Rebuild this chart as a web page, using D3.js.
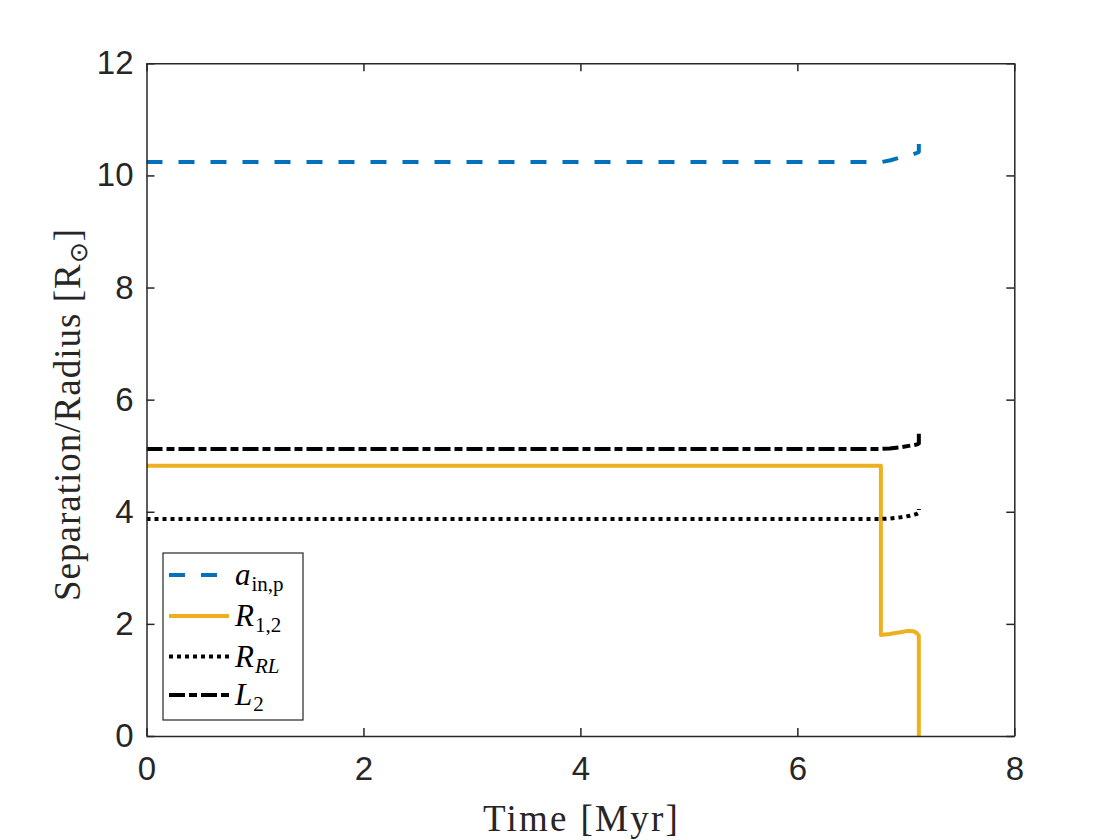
<!DOCTYPE html>
<html>
<head>
<meta charset="utf-8">
<script src="https://cdn.jsdelivr.net/npm/d3@7"></script>
<style>
  body { margin: 0; background: #fff; }
  svg { display: block; }
  .tick text { font-family: "Liberation Sans", Arial, sans-serif; fill: #262626; }
</style>
</head>
<body>
<div id="chart"></div>
<script>
// ---- data ----
var xTicks = [0, 2, 4, 6, 8];
var yTicks = [0, 2, 4, 6, 8, 10, 12];

var aInTime  = [0, 6.78, 6.86, 6.93, 7.00, 7.06, 7.10, 7.12, 7.12];
var aInValue = [10.24, 10.24, 10.27, 10.31, 10.34, 10.37, 10.40, 10.42, 10.56];

var r12Time  = [0, 6.77, 6.77, 6.85, 6.95, 7.02, 7.07, 7.10, 7.12, 7.12];
var r12Value = [4.82, 4.82, 1.80, 1.82, 1.85, 1.875, 1.87, 1.84, 1.79, 0];

var rrlTime  = [0, 6.75, 6.85, 6.95, 7.04, 7.10, 7.12, 7.12];
var rrlValue = [3.87, 3.87, 3.88, 3.90, 3.93, 3.96, 3.98, 4.05];

var l2Time  = [0, 6.75, 6.85, 6.95, 7.04, 7.10, 7.12, 7.12];
var l2Value = [5.12, 5.12, 5.13, 5.15, 5.18, 5.20, 5.22, 5.39];

var seriesNames = ['a', 'R', 'R', 'L'];
var seriesSubs  = ['in,p', '1,2', 'RL', '2'];

(function(){
    // ---- layout ----
    var width = 1120, height = 840;
    var m = { left: 146.5, right: 1014.3, top: 63.3, bottom: 736 };

    var svg = d3.select('#chart').append('svg')
        .attr('width', width)
        .attr('height', height);

    var x = d3.scaleLinear().domain([0, 8]).range([m.left, m.right]);
    var y = d3.scaleLinear().domain([0, 12]).range([m.bottom, m.top]);

    var series = [
        { t: aInTime, v: aInValue, color: '#0072BD', dash: '16,16' },
        { t: r12Time, v: r12Value, color: '#EDB120', dash: null },
        { t: rrlTime, v: rrlValue, color: '#000000', dash: '4,4' },
        { t: l2Time,  v: l2Value,  color: '#000000', dash: '16,4,8,4' }
    ];

    var line = d3.line()
        .x(function(d){ return x(d[0]); })
        .y(function(d){ return y(d[1]); });

    // clip to axes
    svg.append('clipPath').attr('id', 'plotclip')
      .append('rect')
        .attr('x', m.left).attr('y', m.top)
        .attr('width', m.right - m.left).attr('height', m.bottom - m.top);

    var plot = svg.append('g').attr('clip-path', 'url(#plotclip)');

    series.forEach(function(s){
        var pts = s.t.map(function(t, i){ return [t, s.v[i]]; });
        plot.append('path')
            .attr('d', line(pts))
            .attr('fill', 'none')
            .attr('stroke', s.color)
            .attr('stroke-width', 4)
            .attr('stroke-linejoin', 'round')
            .attr('stroke-dasharray', s.dash);
    });

    // ---- axes (box with inward ticks on all sides) ----
    var axisColor = '#262626';

    var xAxis = d3.axisBottom(x).tickValues(xTicks).tickSizeInner(-8).tickSizeOuter(0).tickPadding(21);
    var yAxis = d3.axisLeft(y).tickValues(yTicks).tickSizeInner(-8).tickSizeOuter(0).tickPadding(13);

    var gx = svg.append('g').attr('transform', 'translate(0,' + m.bottom + ')').call(xAxis);
    var gy = svg.append('g').attr('transform', 'translate(' + m.left + ',0)').call(yAxis);
    var gxTop = svg.append('g').attr('transform', 'translate(0,' + m.top + ')')
        .call(d3.axisTop(x).tickValues(xTicks).tickSizeInner(-8).tickSizeOuter(0).tickFormat(''));
    var gyRight = svg.append('g').attr('transform', 'translate(' + m.right + ',0)')
        .call(d3.axisRight(y).tickValues(yTicks).tickSizeInner(-8).tickSizeOuter(0).tickFormat(''));

    [gx, gy, gxTop, gyRight].forEach(function(g){
        g.select('.domain').attr('stroke', axisColor).attr('stroke-width', 1.5);
        g.selectAll('.tick line').attr('stroke', axisColor).attr('stroke-width', 1.5);
        g.selectAll('.tick text').style('font-size', '33px');
    });
    gx.selectAll('.tick text').attr('dy', '0.71em');

    // ---- axis labels ----
    svg.append('text')
        .attr('x', (m.left + m.right) / 2)
        .attr('y', 831)
        .attr('text-anchor', 'middle')
        .attr('textLength', 195)
        .attr('lengthAdjust', 'spacing')
        .style('font-family', '"Liberation Serif", "Times New Roman", serif')
        .style('font-size', '37px')
        .style('fill', '#262626')
        .text('Time [Myr]');

    var yLabel = svg.append('text')
        .attr('transform', 'translate(80,415) rotate(-90)')
        .attr('text-anchor', 'middle')
        .attr('textLength', 372)
        .attr('lengthAdjust', 'spacing')
        .style('font-family', '"Liberation Serif", "Times New Roman", serif')
        .style('font-size', '37px')
        .style('fill', '#262626');
    yLabel.append('tspan').text('Separation/Radius [R');
    yLabel.append('tspan').attr('dy', 7).style('font-size', '25px').text('\u2299');
    yLabel.append('tspan').attr('dy', -7).text(']');

    // ---- legend ----
    var legend = svg.append('g');
    legend.append('rect')
        .attr('x', 163).attr('y', 553)
        .attr('width', 140).attr('height', 167)
        .attr('fill', '#fff')
        .attr('stroke', axisColor)
        .attr('stroke-width', 1.2);

    var rowY = [575, 616, 656.5, 695];
    series.forEach(function(s, i){
        legend.append('line')
            .attr('x1', 169).attr('x2', 229)
            .attr('y1', rowY[i]).attr('y2', rowY[i])
            .attr('stroke', s.color)
            .attr('stroke-width', 4)
            .attr('stroke-dasharray', s.dash);

        var t = legend.append('text')
            .attr('x', 235)
            .attr('y', rowY[i] + 10)
            .style('font-family', '"Liberation Serif", "Times New Roman", serif')
            .style('font-size', '31px')
            .style('fill', '#000');
        t.append('tspan').style('font-style', 'italic').text(seriesNames[i]);
        t.append('tspan')
            .attr('dy', 6)
            .attr('dx', 1)
            .style('font-size', '21px')
            .style('font-style', seriesSubs[i] === 'RL' ? 'italic' : 'normal')
            .text(seriesSubs[i]);
    });
})();
</script>
</body>
</html>
